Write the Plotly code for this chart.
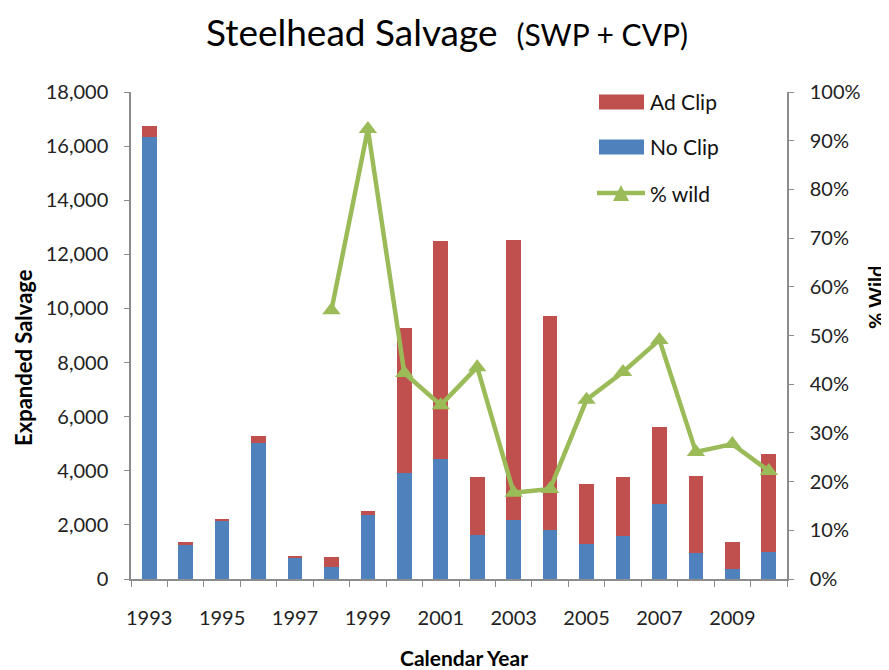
import plotly.graph_objects as go

years = [str(y) for y in range(1993, 2011)]
no_clip = [16330, 1290, 2150, 5040, 780, 440, 2380, 3900, 4420, 1630, 2190, 1810, 1290, 1580, 2770, 960, 360, 1010]
ad_clip = [400, 70, 50, 230, 40, 370, 140, 5360, 8060, 2140, 10330, 7920, 2230, 2180, 2840, 2850, 1000, 3600]
pct_wild = [None, None, None, None, None, 0.552, 0.924, 0.423, 0.357, 0.435, 0.177, 0.185, 0.368, 0.425, 0.491, 0.261, 0.277, 0.222]

FONT = "Lato"
AX = "#8c8c8c"
BLUE, RED, GREEN = "#4F81BD", "#C0504D", "#9BBB59"
OFF = 8  # page body margin offset
W, H = 889 - OFF, 670 - OFF
ML, MT = 131 - OFF, 92 - OFF
MR = W - (787 - OFF)
MB = H - (579 - OFF)
PW, PH = W - ML - MR, H - MT - MB


def px(x):
    return (x - OFF - ML) / PW


def py(y):
    return (H - MB - (y - OFF)) / PH


fig = go.Figure()
fig.add_trace(go.Bar(x=years, y=no_clip, name="No Clip", marker=dict(color=BLUE, line=dict(width=0))))
fig.add_trace(go.Bar(x=years, y=ad_clip, name="Ad Clip", marker=dict(color=RED, line=dict(width=0))))
fig.add_trace(go.Scatter(x=years, y=pct_wild, name="% wild", yaxis="y2", mode="lines+markers",
                         line=dict(color=GREEN, width=4.5),
                         marker=dict(symbol="triangle-up", size=16, color=GREEN)))

# manual legend (decoration)
shapes = []
annots = []
leg = [("Ad Clip", RED, 102), ("No Clip", BLUE, 147)]
for name, col, yc in leg:
    shapes.append(dict(type="rect", xref="paper", yref="paper", x0=px(599), x1=px(644),
                       y0=py(yc + 7.5), y1=py(yc - 7.5), fillcolor=col, line=dict(width=0)))
    annots.append(dict(text=name, x=px(648), y=py(yc), xanchor="left", yanchor="middle",
                       font=dict(size=21, color="#111")))
yc = 193
shapes.append(dict(type="line", xref="paper", yref="paper", x0=px(597), x1=px(645), y0=py(yc), y1=py(yc),
                   line=dict(color=GREEN, width=4.5)))
shapes.append(dict(type="path", xref="paper", yref="paper",
                   path=f"M {px(613)} {py(201)} L {px(629)} {py(201)} L {px(621)} {py(185)} Z",
                   fillcolor=GREEN, line=dict(width=0)))
annots.append(dict(text="% wild", x=px(648), y=py(yc), xanchor="left", yanchor="middle",
                   font=dict(size=21, color="#111")))

annots += [
    dict(text="<b>Expanded Salvage</b>", x=px(23), y=py(358), textangle=-90, xanchor="center",
         yanchor="middle", font=dict(size=22, color="#000")),
    dict(text="<b>Calendar Year</b>", x=px(464), y=py(657), xanchor="center", yanchor="middle",
         font=dict(size=21, color="#000")),
    dict(text="<b>% Wild</b>", x=px(876), y=py(298), textangle=-90, xanchor="center", yanchor="middle",
         font=dict(size=20, color="#000")),
]
for a in annots:
    a.update(xref="paper", yref="paper", showarrow=False)

fig.update_layout(
    width=W, height=H,
    margin=dict(l=ML, r=MR, t=MT, b=MB),
    paper_bgcolor="white", plot_bgcolor="white",
    barmode="stack", bargap=0.6,
    font=dict(family=FONT, size=20, color="#222"),
    title=dict(text="Steelhead Salvage&nbsp;&nbsp;<span style='font-size:30px'>(SWP + CVP)</span>",
               x=(447 - OFF) / W, xanchor="center", y=1 - (33 - OFF) / H, yanchor="middle",
               yref="container", font=dict(family=FONT, size=37, color="#000")),
    showlegend=False,
    xaxis=dict(type="category", range=[-0.5, 17.5], showline=True, linecolor=AX, linewidth=1.5,
               ticks="outside", tickson="boundaries", ticklen=6, tickcolor=AX, ticklabelstep=2,
               tickangle=0, showgrid=False, zeroline=False, tickfont=dict(size=20, color="#222"),
               ticklabelstandoff=20, automargin=False),
    yaxis=dict(range=[0, 18000], dtick=2000, tickformat=",d", showline=True, linecolor=AX, linewidth=1.5,
               ticks="outside", ticklen=5, tickcolor=AX, showgrid=False, zeroline=False,
               tickfont=dict(size=20, color="#222"), ticklabelstandoff=12, automargin=False),
    yaxis2=dict(range=[0, 1], dtick=0.1, tickformat=".0%", overlaying="y", side="right",
                showline=True, linecolor=AX, linewidth=1.5, ticks="outside", ticklen=5, tickcolor=AX,
                showgrid=False, zeroline=False, tickfont=dict(size=20, color="#222"),
                ticklabelstandoff=12, automargin=False),
    shapes=shapes,
    annotations=annots,
)

fig.write_html("out.html")
